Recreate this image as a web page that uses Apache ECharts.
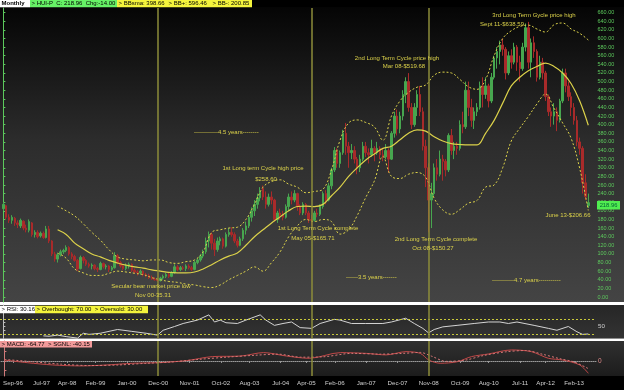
<!DOCTYPE html>
<html><head><meta charset="utf-8">
<script src="https://cdn.jsdelivr.net/npm/echarts@6/dist/echarts.min.js"></script>
<style>html,body{margin:0;padding:0;background:#000;}#c{width:624px;height:390px;}</style>
</head><body><div id="c"></div>
<script>
// ---- DATA (monthly bars, bar 0 = May 1996) ----
const firstYear = 1996, firstMonth = 5;
const opens = [205,212,185,178,183,172,165,176,160,155, 172,145,150,142,148,138,158,130,100,88, 98,105,108,115,100,94,85,66,92,85, 76,72,74,66,64,78,70,72,64,68, 96,80,72,66,72,76,62,58,56,60, 52,50,46,42,40,38,44,48,52,48, 56,70,64,68,66,72,68,64,80,86, 95,105,130,145,125,110,130,135,118,145, 150,145,130,120,135,155,165,185,200,215, 230,252,232,215,232,225,180,195,190,185, 210,232,225,240,210,195,215,195,180,178, 195,192,210,240,225,258,295,340,310,335, 380,350,335,340,320,300,320,350,335,330, 345,335,345,330,325,340,320,380,420,390, 420,470,500,440,400,440,470,430,350,300, 225,240,300,285,320,315,295,375,340,350, 345,400,395,480,440,410,430,440,490,470, 490,455,510,555,570,585,575,520,560,545, 580,545,530,580,625,545,590,570,510,545, 520,465,430,420,430,410,455,520,490,465, 440,410,360,345,265,212];
const highs = [220,214,192,190,186,178,182,178,168,180, 174,155,155,152,152,165,165,132,105,102, 110,112,120,118,104,98,88,96,95,88, 80,78,76,70,82,80,76,74,72,104, 100,84,76,78,80,78,66,62,64,62, 56,54,50,46,43,47,52,56,56,60, 76,74,72,72,76,76,72,84,90,100, 110,138,152,150,135,138,140,138,150,160, 162,150,135,140,160,175,190,208,225,240, 255,258.6,245,240,245,228,200,205,200,215, 240,245,248,242,215,220,218,200,190,200, 205,215,245,248,265,300,348,345,340,388, 404,360,355,350,325,330,360,360,345,365, 350,360,350,345,355,345,385,430,435,430, 480,510,519.68,450,450,480,490,440,365,310, 265,310,320,340,330,320,380,390,360,360, 410,430,500,500,460,440,450,500,510,510, 495,520,560,580,595,600,580,570,575,590, 585,560,590,635,638.59,600,605,575,560,555, 525,470,440,450,440,460,530,530,500,475, 450,420,370,350,285,240];
const lows = [200,180,172,170,165,160,160,155,150,150, 140,138,136,138,135,136,125,95,82,80, 94,100,104,96,88,82,60,64,78,72, 68,64,62,58,62,66,64,58,60,66, 76,68,62,62,66,58,54,50,52,48, 46,42,40,38,35.31,36,40,44,44,46, 54,60,60,62,60,64,60,62,76,82, 90,100,115,110,95,105,120,112,115,140, 140,125,115,118,130,145,160,175,188,205, 222,225,205,210,215,175,172,180,178,182, 200,215,220,200,190,190,190,172,165.71,175, 185,188,205,215,222,250,290,300,300,330, 330,300,320,310,285,290,315,325,310,325, 315,330,320,315,320,288,318,370,375,380, 410,450,430,390,395,420,420,340,255,150.27, 160,235,270,280,270,280,290,330,320,330, 340,380,390,420,395,390,420,435,440,460, 440,450,505,530,540,560,505,515,530,540, 525,500,525,570,530,510,555,500,505,505, 455,420,395,400,385,405,450,475,455,420, 400,350,330,240,225,206.66];
const closes = [215,185,178,185,172,168,178,160,156,175, 145,150,140,148,138,158,130,100,88,98, 105,108,115,100,94,85,65,92,85,76, 72,74,66,64,78,70,72,64,68,96, 80,72,66,72,76,62,58,56,60,52, 50,46,42,40,38,44,48,52,48,56, 70,64,68,66,72,68,64,80,86,95, 105,130,145,125,110,130,135,118,145,150, 145,130,120,135,155,165,185,200,215,230, 245,232,215,232,225,180,195,190,185,210, 232,225,240,210,195,215,195,180,178,195, 192,210,240,225,258,295,340,310,335,380, 350,335,340,320,300,320,350,335,330,345, 335,345,330,325,340,320,380,420,390,420, 470,500,440,400,440,470,430,350,300,225, 240,300,285,320,315,295,375,340,350,345, 400,395,480,440,410,430,440,490,470,490, 455,510,555,570,585,575,520,560,545,580, 545,530,580,625,545,590,570,510,545,520, 465,430,420,430,410,455,520,490,465,440, 410,360,345,265,232.96,218.96];

// Bollinger band readings (bar index -> value)
const bbIdx   = [19,22,25,28,31,34,37,40,43,46,49,52,55,58,61,64,67,70,73,76,79,82,85,88,91,94,97,100,103,106,109,112,115,118,121,124,127,130,133,136,139,142,145,148,151,154,157,160,163,166,169,172,175,178,181,184,187,190,193,196,199,202,205];
const bbUpper = [211,200,188,170,150,132,110,93,88,86,84,86,86,80,78,82,86,105,150,156,160,162,180,215,255,268,272,262,255,242,245,250,295,364,404,411,405,395,364,420,455,475,487,492,515,522,520,505,488,482,505,560,600,618,628,631,622,615,632,636,622,612,596.46];
const bbMid   = [156,145,125,112,100,93,85,79,74,70,67,63,60,57,56,56,58,65,75,86,95,102,120,140,156,172,186,200,210,211,210,215,235,255,280,300,318,332,345,350,365,380,388,385,372,362,356,354,353,353,380,410,450,490,510,525,535,543,535,520,495,455,398.66];
const bbLower = [102,90,65,56,50,50,55,60,58,55,52,45,40,36,34,30,28,24,22,28,40,50,60,70,60,80,105,140,165,180,175,180,175,146,156,189,231,269,326,280,275,285,289,278,229,202,192,203,218,224,255,260,300,362,392,419,448,471,438,404,368,298,200.85];

// RSI readings
const rsiIdx = [14,16,19,22,26,28,30,34,40,45,50,54,56,60,63,68,72,74,76,78,82,85,90,92,95,98,101,104,108,111,116,118,122,127,133,136,141,144,147,149,151,154,159,165,170,174,177,180,186,191,194,198,201,203,205];
const rsiVal = [25,24,27,23,19,32,29,32,42,37,32,27,40,50,58,67,81,62,67,60,58,67,81,67,53,58,62,47,45,58,69,67,58,58,58,62,72,58,45,33,42,49,53,58,62,62,58,62,53,45,40,50,36,29,30.16];

// MACD readings
const macdIdx = [0,8,17,27,36,45,54,64,73,83,91,99,107,118,127,134,141,146,149,153,159,164,170,178,185,191,196,202,205];
const macdVal = [5,-9,-21,-26,-21,-12,-9,2,23,26,44,26,14,44,40,32,49,40,5,-12,-4,23,37,58,49,14,5,-21,-64.77];
const sigIdx = [0,10,20,30,40,50,58,68,78,88,96,104,112,122,132,140,146,150,155,162,168,176,183,189,195,200,205];
const sigVal = [8,-4,-17,-24,-21,-12,-6,8,20,30,36,20,22,40,36,40,45,25,-2,5,28,48,55,35,12,-5,-40.15];

// axis ticks
const priceTicks = [0,20,40,60,80,100,120,140,160,180,200,220,240,260,280,300,320,340,360,380,400,420,440,460,480,500,520,540,560,580,600,620,640,660];
const xTickLabels = ['Sep-96','Jul-97','Apr-98','Feb-99','Jan-00','Dec-00','Nov-01','Oct-02','Aug-03','Jul-04','Apr-05','Feb-06','Jan-07','Dec-07','Nov-08','Oct-09','Aug-10','Jul-11','Apr-12','Feb-13'];
const cycleLowIdx = [54,108,149]; // Nov-00, May-05, Oct-08 bars

// ---- helpers ----
const monNames = {Jan:0,Feb:1,Mar:2,Apr:3,May:4,Jun:5,Jul:6,Aug:7,Sep:8,Oct:9,Nov:10,Dec:11};
function labelPos(s){ const p=s.split('-'); const y=+p[1]; const yr = y<50?2000+y:1900+y; return (yr-firstYear)*12 + monNames[p[0]] - (firstMonth-1) - 1; }
const xTickPos = xTickLabels.map(labelPos);

const candles = opens.map((o,k)=>[k, o, closes[k], lows[k], highs[k]]);
const pairs = (idx, vals) => idx.map((k,i)=>[k, vals[i]]);

const xMin = -1.19, xMax = 207.7;
const FONT = 'Liberation Sans';
const YEL = '#dcd24a';
const VCOL = '#8c8c3a';
const vline = {silent:true, symbol:'none', label:{show:false}, lineStyle:{color:VCOL, width:1.5, type:'solid'}, data: cycleLowIdx.map(t=>({xAxis:t}))};

const chart = echarts.init(document.getElementById('c'), null, {width:624, height:390});

function txt(x, y, s, align){ return {type:'text', x:x, y:y, z:50, style:{text:s, fill:YEL, font:'6px "'+FONT+'"', textAlign:align||'center', textVerticalAlign:'middle'}}; }
function tag(x, w, y, h, bg, s, bold){ return [{type:'rect', z:60, shape:{x:x,y:y,width:w,height:h}, style:{fill:bg}}, {type:'text', z:61, x:x+1.5, y:y+h/2, style:{text:s, fill:'#000', font:(bold?'bold ':'')+'6px "'+FONT+'"', textVerticalAlign:'middle'}}]; }

const mainBg = {type:'rect', z:-100, shape:{x:0,y:7,width:624,height:295}, style:{fill:new echarts.graphic.LinearGradient(0,0,0,1,[{offset:0,color:'#050505'},{offset:0.45,color:'#2c2c2c'},{offset:1,color:'#444444'}])}};
const rsiBg = {type:'rect', z:-100, shape:{x:0,y:305,width:624,height:33.5}, style:{fill:new echarts.graphic.LinearGradient(0,0,0,1,[{offset:0,color:'#262626'},{offset:1,color:'#333333'}])}};
const macdBg = {type:'rect', z:-100, shape:{x:0,y:341,width:624,height:35}, style:{fill:new echarts.graphic.LinearGradient(0,0,0,1,[{offset:0,color:'#303030'},{offset:1,color:'#1c1c1c'}])}};
const sep1 = {type:'rect', z:-90, shape:{x:0,y:302,width:624,height:3}, style:{fill:'#ffffff'}};
const sep2 = {type:'rect', z:-90, shape:{x:0,y:338.5,width:624,height:2.5}, style:{fill:'#ffffff'}};

const graphics = [mainBg, rsiBg, macdBg, sep1, sep2,
  ...tag(0,30,0,7.3,'#ffffff','Monthly',true),
  ...tag(30,87,0,7.3,'#66f266','> HUI-P  C: 218.96  Chg:-14.00'),
  ...tag(117,50,0,7.3,'#f4f43c','> BBsma: 398.66'),
  ...tag(167,44,0,7.3,'#f4f43c','> BB+: 596.46'),
  ...tag(211,41,0,7.3,'#f4f43c','> BB-: 200.85'),
  ...tag(0,35,305.7,7.5,'#ffffff','> RSI: 30.16'),
  ...tag(35,113,305.7,7.5,'#f4f43c','> Overbought: 70.00  > Oversold: 30.00'),
  ...tag(0,92,341,6.5,'#f29a9a','> MACD: -64.77  > SGNL: -40.15'),
  txt(151,286,'Secular bear market price low'), txt(153,295,'Nov 00-35.31'),
  txt(263,168,'1st Long term Cycle high price'), txt(266,179,'$258.60'),
  txt(318,228,'1st Long Term Cycle complete'), txt(313,238,'May 05-$165.71'),
  txt(194,132,'------------4.5 years--------','left'),
  txt(397,58,'2nd Long Term Cycle price high'), txt(404,66,'Mar 08-$519.68'),
  txt(534,15,'3rd Long Term Gycle price high'), txt(502,24,'Sept 11-$638.59'),
  txt(436,239,'2nd Long Term Cycle complete'), txt(433,248,'Oct 08-$150.27'),
  txt(346,277,'------3.5 years-------','left'),
  txt(492,280,'-----------4.7 years-----------','left'),
  txt(568,215,'June 13-$206.66'),
  {type:'rect', z:70, shape:{x:597,y:201,width:23,height:8.5}, style:{fill:'#50ee50'}},
  {type:'text', z:71, x:608.5, y:205.3, style:{text:'218.96', fill:'#063', font:'5.8px "'+FONT+'"', textAlign:'center', textVerticalAlign:'middle'}}
];

const hiddenX = (g)=>({type:'value', gridIndex:g, min:xMin, max:xMax, show:false});

chart.setOption({
  animation:false,
  backgroundColor:'#000',
  textStyle:{fontFamily:FONT},
  grid:[
    {left:0, right:28, top:8, height:294},
    {left:0, right:28, top:305, height:33.5},
    {left:0, right:28, top:341, height:35}
  ],
  xAxis:[hiddenX(0), hiddenX(1),
    {type:'value', gridIndex:2, min:xMin, max:xMax,
     axisLine:{show:true, lineStyle:{color:'#9a9a9a', width:1, type:[1,1]}},
     axisTick:{show:true, customValues:xTickPos, length:2, lineStyle:{color:'#9a9a9a'}},
     axisLabel:{customValues:xTickPos, formatter:(v)=>xTickLabels[xTickPos.indexOf(v)] || '', color:'#cfcfcf', fontSize:6.2, margin:4, hideOverlap:false},
     splitLine:{show:false}}],
  yAxis:[
    {type:'value', gridIndex:0, position:'right', min:-11.6, max:670.8,
     axisLine:{show:true, lineStyle:{color:'#5cc85c'}},
     axisTick:{show:true, customValues:priceTicks, length:2, lineStyle:{color:'#5cc85c'}},
     axisLabel:{customValues:priceTicks, formatter:(v)=>v.toFixed(2), color:'#5cc85c', fontSize:5.5, margin:1.5},
     splitLine:{show:false}},
    {type:'value', gridIndex:1, position:'right', min:18, max:107.3,
     axisLine:{show:true, lineStyle:{color:'#bdbdbd'}},
     axisTick:{show:true, customValues:[30,40,50,60,70], length:2, lineStyle:{color:'#bdbdbd'}},
     axisLabel:{customValues:[50], color:'#cfcfcf', fontSize:6.2, margin:2},
     splitLine:{show:false}},
    {type:'value', gridIndex:2, position:'right', min:-79, max:105,
     axisLine:{show:true, lineStyle:{color:'#d07a7a'}},
     axisTick:{show:true, customValues:[-50,0,50], length:2, lineStyle:{color:'#d07a7a'}},
     axisLabel:{customValues:[0], color:'#e08a8a', fontSize:6.5, margin:2},
     splitLine:{show:false}}
  ],
  series:[
    {type:'candlestick', xAxisIndex:0, yAxisIndex:0, data:candles, barWidth:2,
     encode:{x:0, y:[1,2,3,4]},
     itemStyle:{color:'#47a64f', color0:'#a82a2a', borderColor:'#47a64f', borderColor0:'#a82a2a', borderWidth:1},
     markLine:vline, z:3},
    {type:'line', xAxisIndex:0, yAxisIndex:0, data:pairs(bbIdx,bbUpper), symbol:'none', smooth:0.4, lineStyle:{color:YEL, width:1, type:[2,2]}, z:4},
    {type:'line', xAxisIndex:0, yAxisIndex:0, data:pairs(bbIdx,bbMid), symbol:'none', smooth:0.4, lineStyle:{color:YEL, width:1.2}, z:4},
    {type:'line', xAxisIndex:0, yAxisIndex:0, data:pairs(bbIdx,bbLower), symbol:'none', smooth:0.4, lineStyle:{color:YEL, width:1, type:[2,2]}, z:4},
    {type:'line', xAxisIndex:1, yAxisIndex:1, data:pairs(rsiIdx,rsiVal), symbol:'none', lineStyle:{color:'#d4d4d4', width:1},
     markLine:{silent:true, symbol:'none', label:{show:false}, data:[{yAxis:70},{yAxis:30},...cycleLowIdx.map(t=>({xAxis:t, lineStyle:{color:VCOL, width:1.5, type:'solid'}}))], lineStyle:{color:'#c8c83a', width:1, type:[2,2]}}},
    {type:'line', xAxisIndex:2, yAxisIndex:2, data:pairs(macdIdx,macdVal), symbol:'none', smooth:0.3, lineStyle:{color:'#c24848', width:1}, markLine:vline},
    {type:'line', xAxisIndex:2, yAxisIndex:2, data:pairs(sigIdx,sigVal), symbol:'none', smooth:0.3, lineStyle:{color:'#d87878', width:1, type:[2,2]}}
  ],
  graphic:{elements:graphics}
});
</script></body></html>
